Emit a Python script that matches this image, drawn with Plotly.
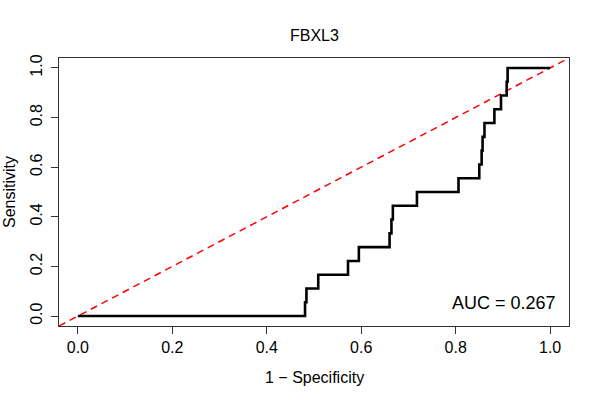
import plotly.graph_objects as go

# ROC points: 1 - specificity where sensitivity steps up, and the new sensitivity
fpr = [0.0, 0.481, 0.484, 0.509, 0.572, 0.595, 0.660, 0.664, 0.667, 0.718,
       0.806, 0.850, 0.855, 0.857, 0.861, 0.882, 0.896, 0.908, 0.910, 1.0]
tpr = [0.0, 1/18, 2/18, 3/18, 4/18, 5/18, 6/18, 7/18, 8/18, 9/18,
       10/18, 11/18, 12/18, 13/18, 14/18, 15/18, 16/18, 17/18, 1.0, 1.0]
ticks = [0.0, 0.2, 0.4, 0.6, 0.8, 1.0]
tick_text = ["0.0", "0.2", "0.4", "0.6", "0.8", "1.0"]
auc = 0.267
gene = "FBXL3"

rng = [-0.04, 1.04]
font = "Liberation Sans, Arial, sans-serif"

fig = go.Figure()

# chance line (abline 0,1) across the whole box
fig.add_trace(go.Scatter(
    x=rng, y=rng, mode="lines",
    line=dict(color="#ff0000", width=1.5, dash="7px,5px"),
    hoverinfo="skip",
))

fig.add_trace(go.Scatter(
    x=fpr, y=tpr, mode="lines",
    line=dict(color="black", width=2.6, shape="hv"),
))

axis_common = dict(
    range=rng, autorange=False,
    tickvals=ticks, ticktext=tick_text,
    ticks="outside", ticklen=7, tickwidth=1, tickcolor="#333",
    showline=True, linecolor="#333", linewidth=1, mirror=True,
    showgrid=False, zeroline=False,
    tickfont=dict(family=font, size=16, color="black"),
)

fig.update_xaxes(**axis_common)
fig.update_yaxes(**axis_common, tickangle=-90, ticklabelstandoff=3)

fig.update_layout(
    width=600, height=400,
    margin=dict(l=59, r=31, t=58, b=74),
    plot_bgcolor="white", paper_bgcolor="white",
    showlegend=False,
    annotations=[
        dict(text=gene, xref="paper", yref="paper", x=0.5, y=1.0,
             yanchor="middle", yshift=23, showarrow=False,
             font=dict(family=font, size=16, color="black")),
        dict(text="1 − Specificity", xref="paper", yref="paper", x=0.5, y=0,
             yanchor="middle", yshift=-51, showarrow=False,
             font=dict(family=font, size=16, color="black")),
        dict(text="Sensitivity", xref="paper", yref="paper", x=0, y=0.5,
             xanchor="center", yanchor="middle", xshift=-50, textangle=-90,
             showarrow=False,
             font=dict(family=font, size=16, color="black")),
        dict(text=f"AUC = {auc:.3f}", xref="paper", yref="y", x=0.978, y=0.052,
             xanchor="right", yanchor="middle", showarrow=False,
             font=dict(family=font, size=18, color="black")),
    ],
)

# drop the default 8px body margin so the figure fills the window
fig.write_html("out.html", config={"displayModeBar": False},
               post_script="document.body.style.margin='0';")
